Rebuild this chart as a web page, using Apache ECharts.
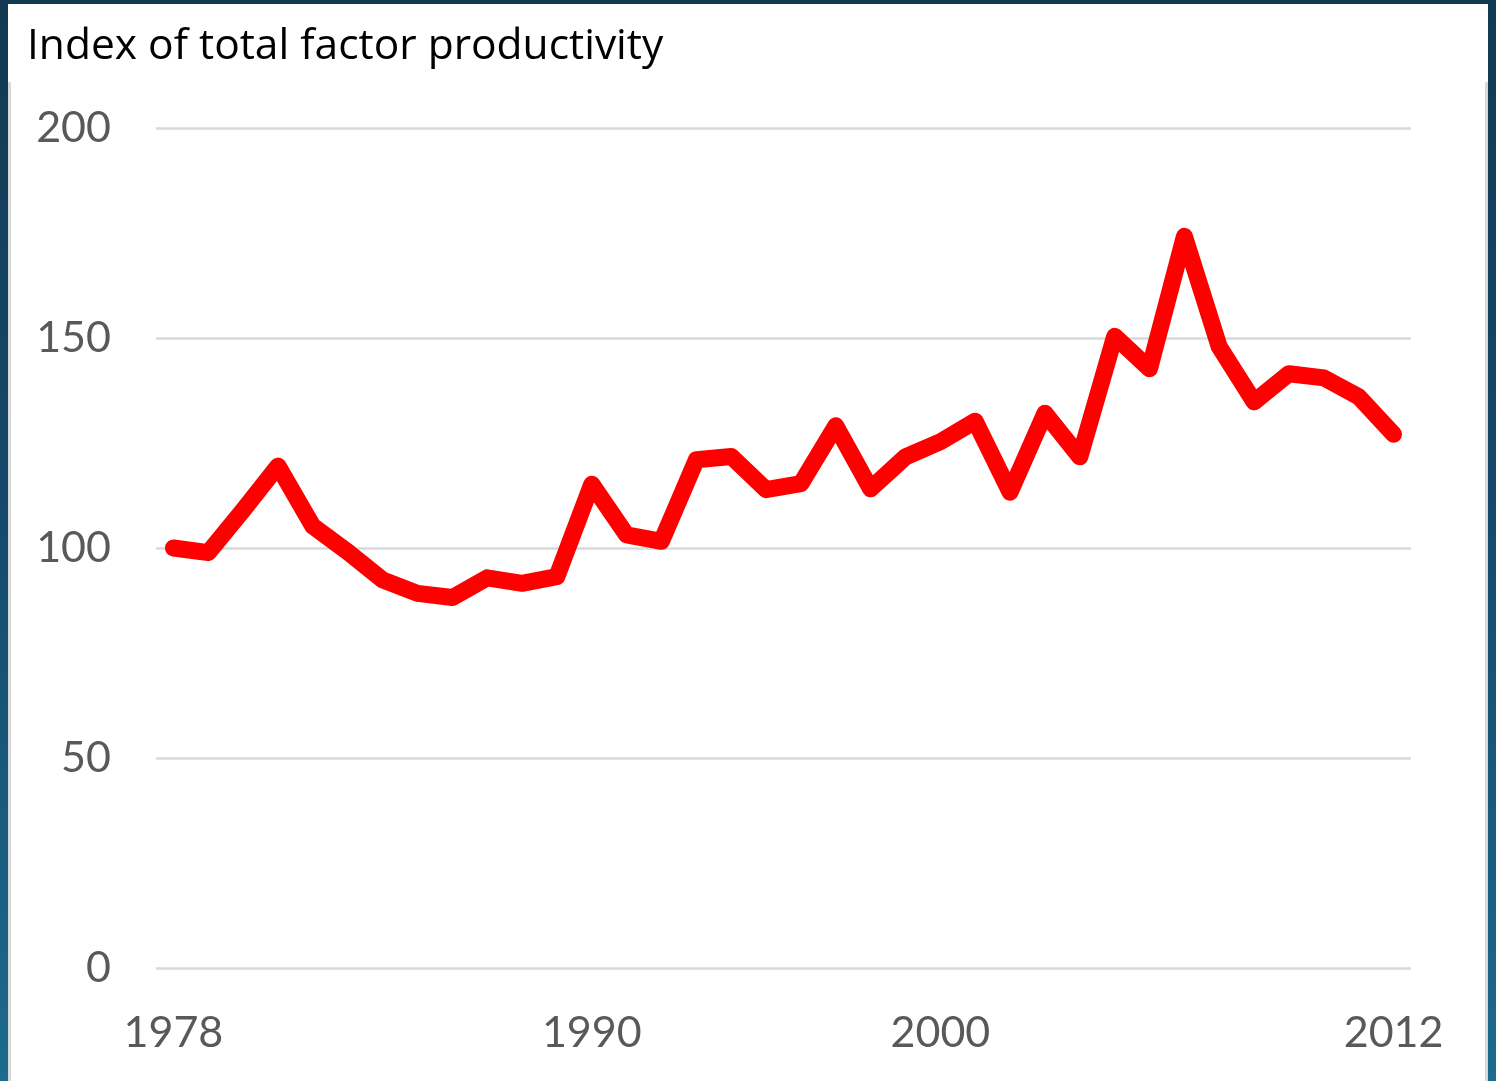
<!DOCTYPE html>
<html>
<head>
<meta charset="utf-8">
<title>Index of total factor productivity</title>
<script src="https://cdn.jsdelivr.net/npm/echarts@6/dist/echarts.min.js"></script>
<style>
  html, body { margin: 0; padding: 0; width: 1496px; height: 1081px; overflow: hidden; }
  body { background: linear-gradient(180deg, #123a52 0%, #15486a 45%, #1c6a8d 100%); position: relative; }
  #panel { position: absolute; left: 8px; top: 4px; width: 1480px; bottom: 0; background: #ffffff; }
  #frame { position: absolute; left: 8px; top: 82px; width: 1474px; bottom: 0;
           border-left: 3px solid #d9d9d9; border-right: 3px solid #d9d9d9; }
  #chart { position: absolute; left: 0; top: 0; width: 1496px; height: 1081px; }
</style>
</head>
<body>
<div id="panel"></div>
<div id="frame"></div>
<div id="chart"></div>
<script>
// Axis labels along the year axis (blank entries carry no label)
const categories = [
  '1978', '', '', '', '', '', '', '', '', '', '', '',
  '1990', '', '', '', '', '', '', '', '', '',
  '2000', '', '', '', '', '', '', '', '', '', '', '', '',
  '2012'
];

// Total factor productivity index, first year = 100
const tfpIndex = [
  100, 98.9, 109, 119.5, 105.2, 99.1, 92.4, 89.2, 88.2, 92.9, 91.6, 93.2,
  115.2, 103.1, 101.6, 121, 121.8, 113.9, 115.3, 129.1, 114.1, 121.7,
  125.3, 130.2, 113.3, 132.1, 121.7, 150.4, 142.7, 174.2, 147.9, 134.8,
  141.5, 140.5, 136, 127.1
];

// Value-axis ticks
const yTicks = [0, 50, 100, 150, 200];

const chart = echarts.init(document.getElementById('chart'), null, { renderer: 'canvas' });

chart.setOption({
  backgroundColor: 'transparent',
  animation: false,
  title: {
    text: 'Index of total factor productivity',
    left: 22,
    top: 20,
    textStyle: { fontFamily: 'Open Sans', fontSize: 42.5, fontWeight: 'normal', color: '#000000' }
  },
  grid: { left: 156, right: 85, top: 128, bottom: 113, containLabel: false },
  xAxis: {
    type: 'category',
    data: categories,
    boundaryGap: true,
    axisLine: { show: false },
    axisTick: { show: false },
    axisLabel: {
      interval: 0,
      margin: 44,
      fontFamily: 'Lato',
      fontSize: 43,
      color: '#595959'
    },
    splitLine: { show: false }
  },
  yAxis: {
    type: 'value',
    min: yTicks[0],
    max: yTicks[yTicks.length - 1],
    interval: yTicks[1] - yTicks[0],
    axisLine: { show: false },
    axisTick: { show: false },
    axisLabel: {
      margin: 45,
      fontFamily: 'Lato',
      fontSize: 43,
      color: '#595959'
    },
    splitLine: { show: true, lineStyle: { color: '#d9d9d9', width: 2.5 } }
  },
  series: [{
    type: 'line',
    data: tfpIndex,
    symbol: 'none',
    smooth: false,
    lineStyle: { color: '#ff0000', width: 17, cap: 'round', join: 'round' }
  }]
});
</script>
</body>
</html>
